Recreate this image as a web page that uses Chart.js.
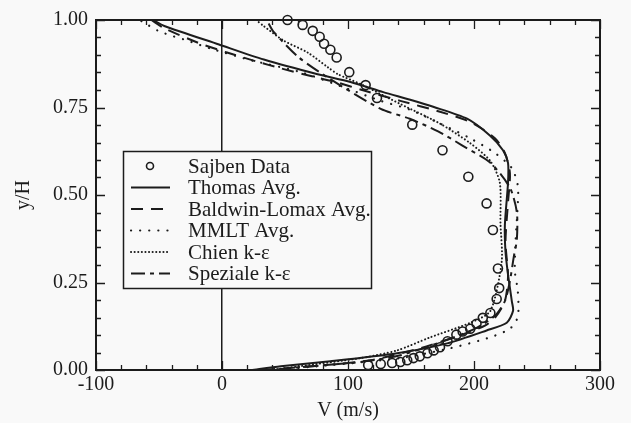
<!DOCTYPE html>
<html>
<head>
<meta charset="utf-8">
<script src="https://cdn.jsdelivr.net/npm/chart.js@4"></script>
<style>
  html, body { margin: 0; padding: 0; background: #f9f9f9; }
  #wrap { width: 631px; height: 423px; }
</style>
</head>
<body>
<div id="wrap"><canvas id="velChart" width="631" height="423"></canvas></div>
<script>
// Sajben measured data
var sajbenV = [52, 64, 72, 77.5, 81, 86, 91, 101, 114, 123, 151, 175, 195.5, 210, 215, 219, 220, 218, 213, 207, 202, 197, 191, 186, 179, 173, 168, 163, 157, 152, 147, 141.5, 135, 126, 116];
var sajbenY = [1.0, 0.986, 0.969, 0.952, 0.932, 0.915, 0.893, 0.851, 0.814, 0.777, 0.701, 0.628, 0.552, 0.476, 0.4, 0.29, 0.234, 0.203, 0.163, 0.149, 0.132, 0.118, 0.11, 0.101, 0.082, 0.065, 0.056, 0.048, 0.039, 0.034, 0.028, 0.023, 0.02, 0.017, 0.014];

// model curves
var thomasV = [-54.5, -45.8, -2.4, 33.2, 75.9, 102, 128, 149.4, 167.6, 194.5, 212.6, 223, 227, 227, 224.5, 225, 227, 230, 231, 226, 210, 178.7, 139, 86, 46.6, 23];
var thomasY = [1.0, 0.983, 0.93, 0.887, 0.845, 0.823, 0.794, 0.772, 0.752, 0.718, 0.67, 0.628, 0.592, 0.535, 0.414, 0.338, 0.273, 0.197, 0.169, 0.135, 0.113, 0.076, 0.048, 0.025, 0.011, 0.0];

var baldwinV = [-56, -46, -19, 4, 27, 46.6, 68, 90, 114, 141.5, 173, 198, 216.6, 224.5, 228.5, 227, 225, 227, 224.5, 216.6, 208.7, 189, 157, 118, 62, 31];
var baldwinY = [1.0, 0.977, 0.935, 0.907, 0.882, 0.862, 0.842, 0.823, 0.797, 0.769, 0.738, 0.707, 0.662, 0.62, 0.563, 0.479, 0.366, 0.268, 0.197, 0.149, 0.127, 0.099, 0.062, 0.028, 0.008, 0.0];

var mmltV = [-64, -50.6, -40, -30, -8.7, 23, 62.5, 94, 126, 149, 173, 197, 216.6, 230, 234.8, 234.8, 233, 232.4, 234.8, 234.8, 228.5, 212.6, 181, 141.5, 86, 39];
var mmltY = [0.997, 0.969, 0.955, 0.944, 0.918, 0.885, 0.851, 0.811, 0.769, 0.744, 0.704, 0.662, 0.62, 0.577, 0.527, 0.479, 0.366, 0.282, 0.225, 0.152, 0.118, 0.093, 0.062, 0.034, 0.014, 0.0];

var chienV = [27, 33, 49, 68, 84, 92, 110, 141.5, 173, 197, 213, 220.5, 221, 222, 213, 197, 165, 139, 110, 62, 39];
var chienY = [1.0, 0.983, 0.941, 0.907, 0.865, 0.845, 0.817, 0.76, 0.704, 0.648, 0.597, 0.535, 0.42, 0.31, 0.169, 0.135, 0.093, 0.056, 0.034, 0.011, 0.0];

var spezialeV = [37, 41, 61, 86, 126, 149, 171.5, 190.5, 213, 228.5, 234, 234, 231.6, 228.5, 224.5, 216.6, 200.8, 173, 141.5, 110, 62, 39];
var spezialeY = [0.99, 0.966, 0.893, 0.831, 0.746, 0.718, 0.682, 0.642, 0.592, 0.521, 0.451, 0.372, 0.324, 0.254, 0.197, 0.155, 0.118, 0.079, 0.042, 0.023, 0.008, 0.0];

var xTicks = [-100, 0, 100, 200, 300];
var yTicks = [0, 0.25, 0.5, 0.75, 1.0];

function pts(xs, ys) {
  return xs.map(function (x, i) { return { x: x, y: ys[i] }; });
}

var ink = "#1c1c1c";
var serif = "'Liberation Serif', 'DejaVu Serif', serif";

function lineSet(label, xs, ys, dash, width, cap) {
  return {
    label: label,
    data: pts(xs, ys),
    showLine: true,
    borderColor: ink,
    backgroundColor: ink,
    borderWidth: width,
    borderDash: dash,
    borderCapStyle: cap || "butt",
    pointRadius: 0,
    tension: 0.25,
    fill: false,
  };
}

var datasets = [
  {
    label: "Sajben Data",
    data: pts(sajbenV, sajbenY),
    showLine: false,
    pointStyle: "circle",
    pointRadius: 4.5,
    borderColor: ink,
    borderWidth: 1.6,
    backgroundColor: "rgba(0,0,0,0)",
  },
  lineSet("Thomas Avg.", thomasV, thomasY, [], 2),
  lineSet("Baldwin-Lomax Avg.", baldwinV, baldwinY, [12, 8], 2),
  lineSet("MMLT Avg.", mmltV, mmltY, [0.1, 9], 2.2, "round"),
  lineSet("Chien k-\u03b5", chienV, chienY, [0.1, 3.5], 2, "round"),
  lineSet("Speziale k-\u03b5", spezialeV, spezialeY, [14, 5, 4, 5], 2),
];

// inner ticks on all four sides, frame and legend box
var decor = {
  id: "decor",
  afterDraw: function (chart) {
    var c = chart.ctx, a = chart.chartArea;
    var xs = chart.scales.x, ys = chart.scales.y;
    c.save();
    c.strokeStyle = ink;
    c.lineWidth = 1.3;
    c.beginPath();
    for (var v = -100; v <= 300; v += 20) {
      var px = Math.round(xs.getPixelForValue(v)) + 0.5;
      var len = (v % 100 === 0) ? 9 : 5;
      c.moveTo(px, a.bottom); c.lineTo(px, a.bottom - len);
      c.moveTo(px, a.top); c.lineTo(px, a.top + len);
    }
    for (var k = 0; k <= 20; k++) {
      var yv = k * 0.05;
      var py = Math.round(ys.getPixelForValue(yv)) + 0.5;
      var l2 = (k % 5 === 0) ? 9 : 5;
      c.moveTo(a.left, py); c.lineTo(a.left + l2, py);
      c.moveTo(a.right, py); c.lineTo(a.right - l2, py);
    }
    c.stroke();
    c.lineWidth = 2;
    c.strokeRect(a.left, a.top, a.right - a.left, a.bottom - a.top);

    // legend
    var bx = 123, by = 151, bw = 248, bh = 137;
    c.fillStyle = "#f9f9f9";
    c.fillRect(bx, by, bw, bh);
    c.lineWidth = 1.5;
    c.strokeRect(bx + 0.5, by + 0.5, bw, bh);
    c.font = "21px " + serif;
    c.textBaseline = "middle";
    chart.data.datasets.forEach(function (ds, i) {
      var ry = by + 15 + i * 21.5;
      c.strokeStyle = ink;
      if (i === 0) {
        c.lineWidth = 1.6;
        c.beginPath();
        c.arc(150, ry, 3.5, 0, Math.PI * 2);
        c.stroke();
      } else {
        c.lineWidth = ds.borderWidth;
        c.lineCap = ds.borderCapStyle;
        c.setLineDash(ds.borderDash);
        c.beginPath();
        c.moveTo(131, ry); c.lineTo(170, ry);
        c.stroke();
        c.setLineDash([]);
        c.lineCap = "butt";
      }
      c.fillStyle = ink;
      c.fillText(ds.label, 188, ry + 1);
    });
    c.restore();
  },
};

var ctx = document.getElementById("velChart").getContext("2d");
var myChart = new Chart(ctx, {
  type: "scatter",
  data: { datasets: datasets },
  options: {
    responsive: false,
    animation: false,
    clip: false,
    layout: { padding: { top: 15, right: 31, left: 0, bottom: 0 } },
    plugins: { legend: { display: false }, tooltip: { enabled: false } },
    scales: {
      x: {
        type: "linear",
        min: -100,
        max: 300,
        afterBuildTicks: function (s) { s.ticks = xTicks.map(function (v) { return { value: v }; }); },
        afterFit: function (s) { s.height = 53; },
        grid: {
          drawTicks: false,
          lineWidth: 1.5,
          color: function (c) { return c.tick && c.tick.value === 0 ? ink : "rgba(0,0,0,0)"; },
        },
        border: { display: false },
        ticks: { color: ink, padding: 3, font: { family: serif, size: 20 } },
        title: { display: true, text: "V (m/s)", color: ink, padding: { top: 0, bottom: 0 }, font: { family: serif, size: 20 } },
      },
      y: {
        type: "linear",
        min: 0,
        max: 1,
        afterBuildTicks: function (s) { s.ticks = yTicks.map(function (v) { return { value: v }; }); },
        afterFit: function (s) { s.width = 96; },
        grid: { display: false, drawTicks: false },
        border: { display: false },
        ticks: {
          color: ink,
          padding: 8,
          font: { family: serif, size: 20 },
          callback: function (v) { return Number(v).toFixed(2); },
        },
        title: { display: true, text: "y/H", color: ink, padding: { top: 12, bottom: 0 }, font: { family: serif, size: 20 } },
      },
    },
  },
  plugins: [decor],
});
</script>
</body>
</html>
